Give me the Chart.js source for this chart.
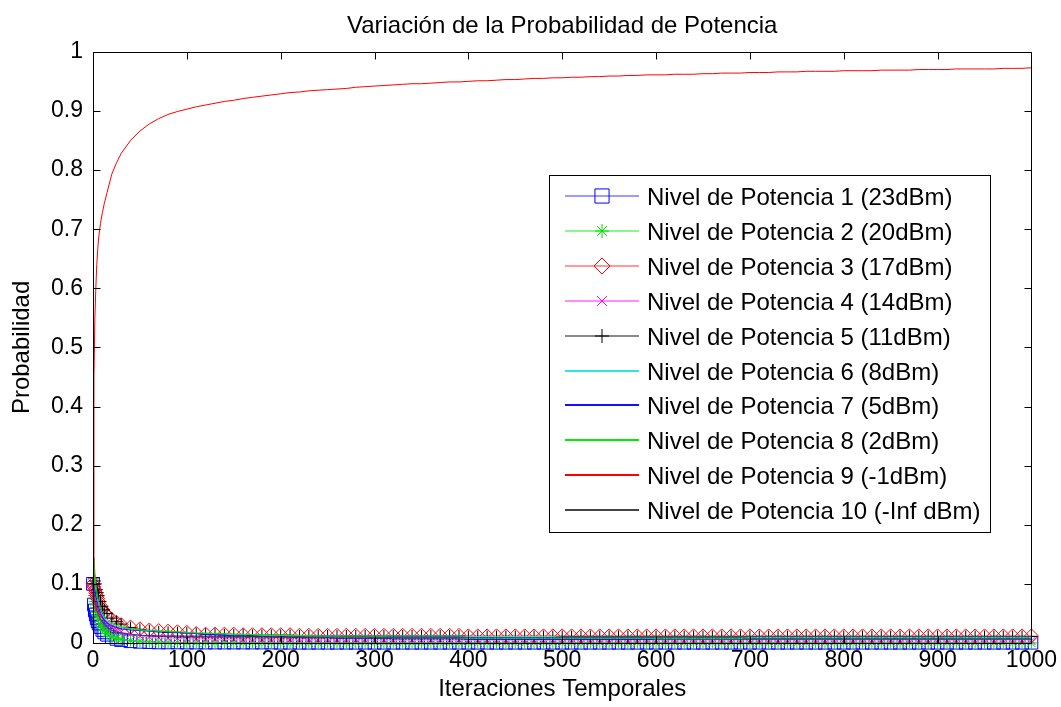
<!DOCTYPE html>
<html>
<head>
<meta charset="utf-8">
<script src="https://cdn.jsdelivr.net/npm/chart.js@4"></script>
<style>
  body { margin: 0; background: #fff; }
  #wrap { width: 1061px; height: 707px; }
</style>
</head>
<body>
<div id="wrap"><canvas id="probChart" width="1061" height="707"></canvas></div>
<script>
const iters = [0, 1, 2, 3, 4, 5, 6, 8, 10, 12, 15, 20, 25, 30, 40, 50, 60, 70, 80, 90,
  100, 110, 120, 130, 140, 150, 160, 170, 180, 190,
  200, 210, 220, 230, 240, 250, 260, 270, 280, 290,
  300, 310, 320, 330, 340, 350, 360, 370, 380, 390,
  400, 410, 420, 430, 440, 450, 460, 470, 480, 490,
  500, 510, 520, 530, 540, 550, 560, 570, 580, 590,
  600, 610, 620, 630, 640, 650, 660, 670, 680, 690,
  700, 710, 720, 730, 740, 750, 760, 770, 780, 790,
  800, 810, 820, 830, 840, 850, 860, 870, 880, 890,
  900, 910, 920, 930, 940, 950, 960, 970, 980, 990,
  1000];

const nivel1 = [0.1, 0.065, 0.055, 0.048, 0.042, 0.037, 0.033, 0.027, 0.022, 0.018, 0.014, 0.01, 0.007, 0.005, 0.003, 0.002, 0.0015, 0.001, 0.001, 0.001,
  0.0008, 0.0008, 0.0008, 0.0008, 0.0008, 0.0008, 0.0008, 0.0008, 0.0008, 0.0008,
  0.0005, 0.0005, 0.0005, 0.0005, 0.0005, 0.0005, 0.0005, 0.0005, 0.0005, 0.0005,
  0.0005, 0.0005, 0.0005, 0.0005, 0.0005, 0.0005, 0.0005, 0.0005, 0.0005, 0.0005,
  0.0005, 0.0005, 0.0005, 0.0005, 0.0005, 0.0005, 0.0005, 0.0005, 0.0005, 0.0005,
  0.0005, 0.0005, 0.0005, 0.0005, 0.0005, 0.0005, 0.0005, 0.0005, 0.0005, 0.0005,
  0.0005, 0.0005, 0.0005, 0.0005, 0.0005, 0.0005, 0.0005, 0.0005, 0.0005, 0.0005,
  0.0005, 0.0005, 0.0005, 0.0005, 0.0005, 0.0005, 0.0005, 0.0005, 0.0005, 0.0005,
  0.0005, 0.0005, 0.0005, 0.0005, 0.0005, 0.0005, 0.0005, 0.0005, 0.0005, 0.0005,
  0.0005, 0.0005, 0.0005, 0.0005, 0.0005, 0.0005, 0.0005, 0.0005, 0.0005, 0.0005,
  0.0005];
const nivel2 = [0.1, 0.08, 0.07, 0.06, 0.052, 0.046, 0.04, 0.032, 0.026, 0.021, 0.016, 0.011, 0.008, 0.006, 0.004, 0.003, 0.002, 0.0015, 0.001, 0.001,
  0.0005, 0.0005, 0.0005, 0.0005, 0.0005, 0.0003, 0.0003, 0.0003, 0.0003, 0.0003,
  0.0002, 0.0002, 0.0002, 0.0002, 0.0002, 0.0002, 0.0002, 0.0002, 0.0002, 0.0002,
  0.0001, 0.0001, 0.0001, 0.0001, 0.0001, 0.0001, 0.0001, 0.0001, 0.0001, 0.0001,
  0.0001, 0.0001, 0.0001, 0.0001, 0.0001, 0.0001, 0.0001, 0.0001, 0.0001, 0.0001,
  0.0001, 0.0001, 0.0001, 0.0001, 0.0001, 0.0001, 0.0001, 0.0001, 0.0001, 0.0001,
  0.0001, 0.0001, 0.0001, 0.0001, 0.0001, 0.0001, 0.0001, 0.0001, 0.0001, 0.0001,
  0.0001, 0.0001, 0.0001, 0.0001, 0.0001, 0.0001, 0.0001, 0.0001, 0.0001, 0.0001,
  0.0001, 0.0001, 0.0001, 0.0001, 0.0001, 0.0001, 0.0001, 0.0001, 0.0001, 0.0001,
  0.0001, 0.0001, 0.0001, 0.0001, 0.0001, 0.0001, 0.0001, 0.0001, 0.0001, 0.0001,
  0.0001];
const nivel3 = [0.1, 0.095, 0.09, 0.085, 0.08, 0.075, 0.07, 0.063, 0.057, 0.052, 0.046, 0.04, 0.035, 0.031, 0.027, 0.024, 0.022, 0.021, 0.02, 0.019,
  0.018, 0.016, 0.015, 0.015, 0.015, 0.015, 0.014, 0.014, 0.014, 0.014,
  0.014, 0.014, 0.013, 0.013, 0.013, 0.013, 0.013, 0.013, 0.013, 0.013,
  0.013, 0.013, 0.013, 0.013, 0.013, 0.013, 0.013, 0.013, 0.013, 0.013,
  0.012, 0.012, 0.012, 0.012, 0.012, 0.012, 0.012, 0.012, 0.012, 0.012,
  0.012, 0.012, 0.012, 0.012, 0.012, 0.012, 0.012, 0.012, 0.012, 0.012,
  0.012, 0.012, 0.012, 0.012, 0.012, 0.012, 0.012, 0.012, 0.012, 0.012,
  0.012, 0.012, 0.012, 0.012, 0.012, 0.012, 0.012, 0.012, 0.012, 0.012,
  0.012, 0.012, 0.012, 0.012, 0.012, 0.012, 0.012, 0.012, 0.012, 0.012,
  0.012, 0.012, 0.012, 0.012, 0.012, 0.012, 0.012, 0.012, 0.012, 0.012,
  0.012];
const nivel4 = [0.1, 0.09, 0.085, 0.078, 0.07, 0.065, 0.06, 0.052, 0.045, 0.04, 0.034, 0.027, 0.022, 0.019, 0.015, 0.012, 0.01, 0.009, 0.008, 0.0075,
  0.007, 0.007, 0.006, 0.006, 0.006, 0.006, 0.005, 0.005, 0.005, 0.005,
  0.005, 0.005, 0.005, 0.005, 0.005, 0.005, 0.005, 0.005, 0.005, 0.005,
  0.0045, 0.0045, 0.0045, 0.0045, 0.0045, 0.0045, 0.0045, 0.0045, 0.0045, 0.0045,
  0.004, 0.004, 0.004, 0.004, 0.004, 0.004, 0.004, 0.004, 0.004, 0.004,
  0.0035, 0.0035, 0.0035, 0.0035, 0.0035, 0.0035, 0.0035, 0.0035, 0.0035, 0.0035,
  0.0035, 0.0035, 0.0035, 0.0035, 0.0035, 0.0035, 0.0035, 0.0035, 0.0035, 0.0035,
  0.0035, 0.0035, 0.0035, 0.0035, 0.0035, 0.0035, 0.0035, 0.0035, 0.0035, 0.0035,
  0.0035, 0.0035, 0.0035, 0.0035, 0.0035, 0.0035, 0.0035, 0.0035, 0.0035, 0.0035,
  0.0035, 0.0035, 0.0035, 0.0035, 0.0035, 0.0035, 0.0035, 0.0035, 0.0035, 0.0035,
  0.0035];
const nivel5 = [0.1, 0.11, 0.105, 0.1, 0.09, 0.085, 0.08, 0.07, 0.062, 0.056, 0.05, 0.042, 0.036, 0.032, 0.026, 0.023, 0.021, 0.019, 0.018, 0.0175,
  0.017, 0.016, 0.015, 0.015, 0.014, 0.014, 0.014, 0.013, 0.013, 0.013,
  0.013, 0.013, 0.012, 0.012, 0.012, 0.012, 0.012, 0.012, 0.012, 0.012,
  0.012, 0.012, 0.012, 0.012, 0.012, 0.012, 0.012, 0.012, 0.012, 0.012,
  0.011, 0.011, 0.011, 0.011, 0.011, 0.011, 0.011, 0.011, 0.011, 0.011,
  0.011, 0.011, 0.011, 0.011, 0.011, 0.011, 0.011, 0.011, 0.011, 0.011,
  0.011, 0.011, 0.011, 0.011, 0.011, 0.011, 0.011, 0.011, 0.011, 0.011,
  0.011, 0.011, 0.011, 0.011, 0.011, 0.011, 0.011, 0.011, 0.011, 0.011,
  0.011, 0.011, 0.011, 0.011, 0.011, 0.011, 0.011, 0.011, 0.011, 0.011,
  0.011, 0.011, 0.011, 0.011, 0.011, 0.011, 0.011, 0.011, 0.011, 0.011,
  0.011];
const nivel6 = [0.1, 0.12, 0.1, 0.085, 0.075, 0.068, 0.062, 0.053, 0.047, 0.042, 0.037, 0.032, 0.029, 0.027, 0.024, 0.022, 0.021, 0.02, 0.019, 0.018,
  0.017, 0.016, 0.016, 0.015, 0.015, 0.014, 0.014, 0.014, 0.013, 0.013,
  0.013, 0.013, 0.013, 0.012, 0.012, 0.012, 0.012, 0.012, 0.012, 0.012,
  0.012, 0.012, 0.012, 0.012, 0.012, 0.012, 0.012, 0.012, 0.012, 0.012,
  0.011, 0.011, 0.011, 0.011, 0.011, 0.011, 0.011, 0.011, 0.011, 0.011,
  0.010, 0.010, 0.010, 0.010, 0.010, 0.010, 0.010, 0.010, 0.010, 0.010,
  0.010, 0.010, 0.010, 0.010, 0.010, 0.010, 0.010, 0.010, 0.010, 0.010,
  0.010, 0.010, 0.010, 0.010, 0.010, 0.010, 0.010, 0.010, 0.010, 0.010,
  0.010, 0.010, 0.010, 0.010, 0.010, 0.010, 0.010, 0.010, 0.010, 0.010,
  0.010, 0.010, 0.010, 0.010, 0.010, 0.010, 0.010, 0.010, 0.010, 0.010,
  0.010];
const nivel7 = [0.1, 0.1, 0.09, 0.08, 0.072, 0.065, 0.06, 0.05, 0.044, 0.039, 0.034, 0.029, 0.026, 0.024, 0.022, 0.021, 0.02, 0.019, 0.019, 0.018,
  0.017, 0.016, 0.015, 0.014, 0.013, 0.012, 0.012, 0.011, 0.011, 0.010,
  0.010, 0.010, 0.009, 0.009, 0.009, 0.009, 0.008, 0.008, 0.008, 0.008,
  0.008, 0.008, 0.007, 0.007, 0.007, 0.007, 0.007, 0.007, 0.007, 0.007,
  0.006, 0.006, 0.006, 0.006, 0.006, 0.006, 0.006, 0.006, 0.006, 0.006,
  0.006, 0.006, 0.006, 0.006, 0.006, 0.006, 0.006, 0.006, 0.006, 0.006,
  0.006, 0.006, 0.006, 0.006, 0.006, 0.006, 0.006, 0.006, 0.006, 0.006,
  0.006, 0.006, 0.006, 0.006, 0.006, 0.006, 0.006, 0.006, 0.006, 0.006,
  0.006, 0.006, 0.006, 0.006, 0.006, 0.006, 0.006, 0.006, 0.006, 0.006,
  0.006, 0.006, 0.006, 0.006, 0.006, 0.006, 0.006, 0.006, 0.006, 0.006,
  0.006];
const nivel8 = [0.1, 0.145, 0.12, 0.1, 0.088, 0.078, 0.07, 0.06, 0.052, 0.046, 0.04, 0.034, 0.03, 0.027, 0.024, 0.022, 0.021, 0.02, 0.02, 0.019,
  0.018, 0.017, 0.017, 0.016, 0.016, 0.015, 0.015, 0.014, 0.014, 0.013,
  0.013, 0.012, 0.012, 0.012, 0.011, 0.011, 0.011, 0.010, 0.010, 0.010,
  0.010, 0.010, 0.009, 0.009, 0.009, 0.009, 0.009, 0.009, 0.009, 0.009,
  0.008, 0.008, 0.008, 0.008, 0.008, 0.008, 0.008, 0.008, 0.008, 0.008,
  0.008, 0.008, 0.008, 0.008, 0.008, 0.008, 0.008, 0.008, 0.008, 0.008,
  0.007, 0.007, 0.007, 0.007, 0.007, 0.007, 0.007, 0.007, 0.007, 0.007,
  0.007, 0.007, 0.007, 0.007, 0.007, 0.007, 0.007, 0.007, 0.007, 0.007,
  0.007, 0.007, 0.007, 0.007, 0.007, 0.007, 0.007, 0.007, 0.007, 0.007,
  0.007, 0.007, 0.007, 0.007, 0.007, 0.007, 0.007, 0.007, 0.007, 0.007,
  0.007];
const nivel9 = [0.1, 0.45, 0.55, 0.6, 0.64, 0.665, 0.685, 0.71, 0.728, 0.743, 0.762, 0.793, 0.812, 0.828, 0.85, 0.866, 0.878, 0.887, 0.894, 0.899,
  0.903, 0.907, 0.910, 0.913, 0.916, 0.918, 0.921, 0.923, 0.925, 0.927,
  0.929, 0.931, 0.932, 0.934, 0.935, 0.936, 0.937, 0.938, 0.940, 0.941,
  0.942, 0.943, 0.944, 0.945, 0.946, 0.946, 0.947, 0.948, 0.949, 0.949,
  0.950, 0.951, 0.951, 0.952, 0.953, 0.953, 0.954, 0.955, 0.955, 0.956,
  0.956, 0.957, 0.957, 0.958, 0.958, 0.959, 0.959, 0.960, 0.960, 0.961,
  0.961, 0.961, 0.962, 0.962, 0.962, 0.963, 0.963, 0.964, 0.964, 0.964,
  0.965, 0.965, 0.965, 0.966, 0.966, 0.966, 0.967, 0.967, 0.967, 0.967,
  0.968, 0.968, 0.968, 0.968, 0.969, 0.969, 0.969, 0.969, 0.970, 0.970,
  0.970, 0.970, 0.971, 0.971, 0.971, 0.971, 0.971, 0.972, 0.972, 0.972,
  0.973];
const nivel10 = [0.1, 0.08, 0.07, 0.062, 0.055, 0.05, 0.046, 0.04, 0.035, 0.031, 0.027, 0.022, 0.019, 0.017, 0.015, 0.013, 0.012, 0.011, 0.011, 0.010,
  0.010, 0.010, 0.010, 0.010, 0.010, 0.010, 0.010, 0.010, 0.010, 0.010,
  0.010, 0.010, 0.010, 0.010, 0.010, 0.010, 0.010, 0.010, 0.010, 0.010,
  0.009, 0.009, 0.009, 0.009, 0.009, 0.009, 0.009, 0.009, 0.009, 0.009,
  0.009, 0.009, 0.009, 0.009, 0.009, 0.009, 0.009, 0.009, 0.009, 0.009,
  0.009, 0.009, 0.009, 0.009, 0.009, 0.009, 0.009, 0.009, 0.009, 0.009,
  0.009, 0.009, 0.009, 0.009, 0.009, 0.009, 0.009, 0.009, 0.009, 0.009,
  0.008, 0.008, 0.008, 0.008, 0.008, 0.008, 0.008, 0.008, 0.008, 0.008,
  0.008, 0.008, 0.008, 0.008, 0.008, 0.008, 0.008, 0.008, 0.008, 0.008,
  0.008, 0.008, 0.008, 0.008, 0.008, 0.008, 0.008, 0.008, 0.008, 0.008,
  0.008];

const legendLabels = [
  'Nivel de Potencia 1 (23dBm)', 'Nivel de Potencia 2 (20dBm)', 'Nivel de Potencia 3 (17dBm)',
  'Nivel de Potencia 4 (14dBm)', 'Nivel de Potencia 5 (11dBm)', 'Nivel de Potencia 6 (8dBm)',
  'Nivel de Potencia 7 (5dBm)', 'Nivel de Potencia 8 (2dBm)', 'Nivel de Potencia 9 (-1dBm)',
  'Nivel de Potencia 10 (-Inf dBm)'
];
const allSeries = [nivel1, nivel2, nivel3, nivel4, nivel5, nivel6, nivel7, nivel8, nivel9, nivel10];

// line colour, marker colour, marker style, marker radius
const lineColors = ['#9c9cff', '#8cf58c', '#ff9a9a', '#ff8cff', '#8a8a8a', '#2ee6e6', '#1010ff', '#00ee00', '#ff0000', '#444444'];
const markerColors = ['#0000ff', '#00e000', '#ff0000', '#ff00ff', '#000000'];
const markerStyles = ['rect', 'star', 'rectRot', 'crossRot', 'cross'];
const markerSizes = [9, 6, 7, 6, 6];

const FONT = "'Liberation Sans', Arial, sans-serif";
Chart.defaults.font.family = FONT;
Chart.defaults.font.size = 23;
Chart.defaults.color = '#000';

const datasets = allSeries.map((vals, i) => ({
  label: legendLabels[i],
  data: iters.map((x, j) => ({ x: x, y: vals[j] })),
  borderColor: lineColors[i],
  borderWidth: 1,
  pointStyle: markerStyles[i] || false,
  pointRadius: i < 5 ? markerSizes[i] : 0,
  pointBorderColor: markerColors[i] || lineColors[i],
  pointBackgroundColor: 'rgba(0,0,0,0)',
  pointBorderWidth: 1,
  tension: 0,
  clip: false,
  order: 10 - i
}));

const whiteBg = {
  id: 'whiteBg',
  beforeDraw(chart) {
    const ctx = chart.ctx;
    ctx.save();
    ctx.fillStyle = '#fff';
    ctx.fillRect(0, 0, chart.width, chart.height);
    ctx.restore();
  }
};

// matlab style box with ticks pointing inward on all four sides
const axisBox = {
  id: 'axisBox',
  afterDatasetsDraw(chart) {
    const { ctx, chartArea: a, scales } = chart;
    const L = Math.round(a.left) + 0.5, R = Math.round(a.right) + 0.5;
    const T = Math.round(a.top) + 0.5, B = Math.round(a.bottom) + 0.5;
    ctx.save();
    ctx.strokeStyle = '#000';
    ctx.lineWidth = 1;
    ctx.strokeRect(L, T, R - L, B - T);
    ctx.beginPath();
    scales.x.ticks.forEach(t => {
      const px = Math.round(scales.x.getPixelForValue(t.value)) + 0.5;
      ctx.moveTo(px, B); ctx.lineTo(px, B - 7);
      ctx.moveTo(px, T); ctx.lineTo(px, T + 7);
    });
    scales.y.ticks.forEach(t => {
      const py = Math.round(scales.y.getPixelForValue(t.value)) + 0.5;
      ctx.moveTo(L, py); ctx.lineTo(L + 7, py);
      ctx.moveTo(R, py); ctx.lineTo(R - 7, py);
    });
    ctx.stroke();
    ctx.restore();
  }
};

const boxLegend = {
  id: 'boxLegend',
  afterDraw(chart) {
    const ctx = chart.ctx;
    const left = 549, top = 175, w = 441, h = 357;
    const rowH = 34.9;
    ctx.save();
    ctx.fillStyle = '#fff';
    ctx.fillRect(left, top, w, h);
    ctx.strokeStyle = '#000';
    ctx.lineWidth = 1;
    ctx.strokeRect(left + 0.5, top + 0.5, w, h);
    legendLabels.forEach((txt, i) => {
      const y = Math.round(top + 21 + i * rowH);
      ctx.fillStyle = lineColors[i];
      ctx.fillRect(left + 16, y - 1, 74, 2);
      if (i < 5 && Chart.helpers && Chart.helpers.drawPoint) {
        ctx.save();
        ctx.lineWidth = 1;
        ctx.strokeStyle = markerColors[i];
        ctx.fillStyle = 'rgba(0,0,0,0)';
        Chart.helpers.drawPoint(ctx, { pointStyle: markerStyles[i], radius: markerSizes[i] + 1, rotation: 0, borderWidth: 1 }, left + 53, y);
        ctx.restore();
      }
      ctx.fillStyle = '#000';
      ctx.font = '24px ' + FONT;
      ctx.textBaseline = 'middle';
      ctx.textAlign = 'left';
      ctx.fillText(txt, left + 98, y + 2);
    });
    ctx.restore();
  }
};

new Chart(document.getElementById('probChart'), {
  type: 'line',
  data: { datasets },
  options: {
    responsive: false,
    animation: false,
    layout: { padding: { left: 0, right: 28, top: 0, bottom: 0 } },
    plugins: {
      legend: { display: false },
      tooltip: { enabled: false },
      title: {
        display: true,
        text: 'Variación de la Probabilidad de Potencia',
        fullSize: false,
        font: { size: 24, weight: 'normal' },
        color: '#000',
        padding: { top: 12, bottom: 11 }
      }
    },
    scales: {
      x: {
        type: 'linear',
        min: 0,
        max: 1000,
        grid: { display: false, drawTicks: false },
        border: { display: false },
        ticks: { stepSize: 100, padding: 4, maxRotation: 0, autoSkip: false, callback: v => String(v) },
        title: { display: true, text: 'Iteraciones Temporales', font: { size: 24 }, padding: { top: 0, bottom: 3 } },
        afterFit(scale) { scale.height = 64; }
      },
      y: {
        min: 0,
        max: 1,
        grid: { display: false, drawTicks: false },
        border: { display: false },
        ticks: {
          stepSize: 0.1,
          padding: 10,
          callback: v => String(Number(v.toFixed(1)))
        },
        title: { display: true, text: 'Probabilidad', font: { size: 24 }, padding: { top: 8, bottom: 0 } },
        afterFit(scale) { scale.width = 93; }
      }
    }
  },
  plugins: [whiteBg, axisBox, boxLegend]
});
</script>
</body>
</html>
